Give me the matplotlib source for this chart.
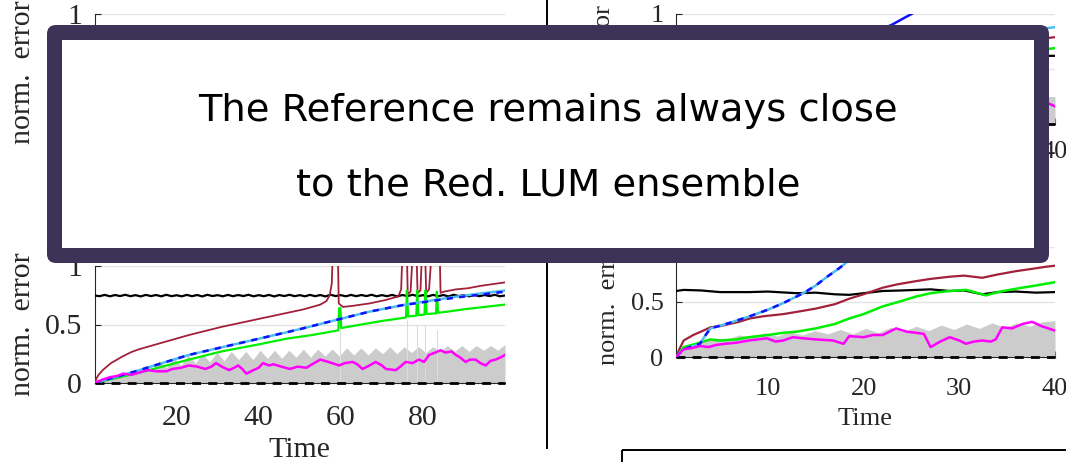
import numpy as np
import matplotlib
matplotlib.use("Agg")
import matplotlib.pyplot as plt
from matplotlib.patches import FancyBboxPatch, Rectangle

W, H, DPI = 1066, 462, 100

# ---------------- data : bottom-left panel (Time 0..100) ----------------
bl_red_t = [0, 0.5, 1, 2, 3, 4, 5.5, 7, 9, 11, 15, 19, 23, 27, 31, 35, 39, 43, 47, 51, 55, 56.5,
            57.3, 57.8, 58.2, 59.2, 59.5, 60.5, 63, 67, 71, 74, 74.7, 75.2, 76.0, 76.3, 77.0,
            77.8, 78.3, 78.7, 79.4, 80.0, 80.4, 80.8, 81.5, 82.5, 83.0, 84.0, 84.3, 85.0, 88, 91,
            94, 97, 100]
bl_red_v = [0, 0.04, 0.07, 0.11, 0.14, 0.17, 0.2, 0.23, 0.265, 0.29, 0.33, 0.37, 0.41, 0.445,
            0.48, 0.51, 0.54, 0.57, 0.6, 0.63, 0.67, 0.7, 0.75, 0.85, 1.3, 1.3, 0.68, 0.65, 0.66,
            0.68, 0.71, 0.74, 0.8, 1.3, 1.3, 0.76, 0.78, 1.3, 1.3, 0.77, 0.79, 1.3, 1.3, 0.77, 0.8,
            1.3, 1.3, 1.3, 0.77, 0.78, 0.8, 0.81, 0.83, 0.845, 0.86]
bl_green_t = [0, 10, 23, 31, 40, 47, 53, 59.4, 59.6, 59.9, 60.1, 65, 70, 75.9, 76.1, 76.4, 78.4,
              78.6, 78.9, 80.4, 80.6, 80.9, 83.2, 83.4, 83.7, 86, 90, 95, 100]
bl_green_v = [0, 0.08, 0.2, 0.27, 0.33, 0.38, 0.41, 0.45, 0.64, 0.64, 0.47, 0.5, 0.53, 0.56, 0.79,
              0.57, 0.575, 0.79, 0.58, 0.585, 0.79, 0.59, 0.595, 0.78, 0.6, 0.61, 0.63, 0.65, 0.67]
bl_blue_t = [0, 10, 23, 39, 50, 59, 67, 75, 82, 88, 94, 100]
bl_blue_v = [0, 0.1, 0.24, 0.37, 0.46, 0.54, 0.61, 0.665, 0.7, 0.73, 0.755, 0.78]
bl_cyan_v = [0, 0.1, 0.24, 0.37, 0.46, 0.54, 0.61, 0.665, 0.705, 0.737, 0.765, 0.79]
bl_black_v = [0.748, 0.742, 0.753, 0.741, 0.752, 0.743, 0.754, 0.742, 0.751, 0.740, 0.753, 0.743,
              0.752, 0.741, 0.754, 0.742, 0.750, 0.741, 0.753, 0.742, 0.752, 0.740, 0.754, 0.743,
              0.751, 0.741, 0.753, 0.742, 0.752, 0.743, 0.754, 0.741, 0.751, 0.742, 0.753, 0.740,
              0.752, 0.743, 0.754, 0.742, 0.751, 0.741, 0.753, 0.742, 0.752, 0.740, 0.754, 0.743,
              0.751, 0.741, 0.753, 0.742, 0.752, 0.743, 0.754, 0.741, 0.751, 0.742, 0.753, 0.740,
              0.752, 0.743, 0.754, 0.742, 0.751, 0.741, 0.753, 0.742, 0.752, 0.740, 0.754, 0.743,
              0.751, 0.741, 0.753, 0.742, 0.752, 0.743, 0.754, 0.741, 0.748]
bl_gray_v = [0, 0.03, 0.02, 0.07, 0.05, 0.11, 0.08, 0.15, 0.11, 0.19, 0.13, 0.22, 0.15, 0.24, 0.17,
             0.25, 0.18, 0.26, 0.19, 0.27, 0.2, 0.27, 0.2, 0.28, 0.21, 0.28, 0.21, 0.28, 0.22, 0.29,
             0.22, 0.29, 0.23, 0.29, 0.23, 0.3, 0.24, 0.3, 0.24, 0.3, 0.25, 0.31, 0.25, 0.31, 0.26,
             0.31, 0.26, 0.31, 0.27, 0.32, 0.27, 0.32, 0.27, 0.32, 0.28, 0.32, 0.28, 0.33]
bl_gray_spike_t = [59.7, 76.1, 78.6, 80.6, 83.4]
bl_gray_spike_v = [0.62, 0.55, 0.5, 0.5, 0.45]
bl_mag_t = [0, 2, 3.8, 5.5, 7, 9, 11, 13, 15, 17.5, 19, 21, 23, 25, 27, 28.5, 29.6, 31, 32.8, 34,
            35, 36, 37, 38.7, 40, 41, 42.5, 43.6, 45.5, 47.6, 49.5, 51.6, 53, 55, 57, 59.6, 61,
            62.9, 64, 65.3, 67, 68.5, 70, 71, 73.4, 74.5, 75.8, 77.5, 79, 80.3, 81.5, 83, 84.3,
            85.5, 87, 88, 89, 90.4, 91.5, 92.8, 94, 95.3, 96.5, 97.7, 99, 100]
bl_mag_v = [0, 0.03, 0.05, 0.06, 0.08, 0.07, 0.09, 0.11, 0.1, 0.1, 0.12, 0.13, 0.15, 0.14, 0.12,
            0.14, 0.17, 0.14, 0.11, 0.13, 0.15, 0.12, 0.08, 0.11, 0.13, 0.17, 0.15, 0.16, 0.14,
            0.12, 0.14, 0.13, 0.16, 0.2, 0.18, 0.15, 0.17, 0.18, 0.16, 0.12, 0.15, 0.18, 0.15,
            0.12, 0.11, 0.14, 0.18, 0.17, 0.2, 0.18, 0.24, 0.26, 0.28, 0.26, 0.27, 0.24, 0.22,
            0.18, 0.2, 0.2, 0.17, 0.15, 0.19, 0.2, 0.22, 0.24]
bl_xticks = [20, 40, 60, 80]

# ---------------- data : bottom-right panel (Time 0..40) ----------------
br_red_t = [0.4, 0.8, 1.2, 2.2, 3, 4, 5, 6, 7, 8.1, 9.5, 11.6, 13, 15, 17, 18.5, 20, 22, 23.5,
            25.5, 27, 29, 30.5, 32.4, 34, 35.9, 37.5, 39, 40]
br_red_v = [0, 0.08, 0.15, 0.2, 0.23, 0.27, 0.28, 0.3, 0.32, 0.35, 0.37, 0.39, 0.41, 0.44, 0.48,
            0.53, 0.57, 0.63, 0.66, 0.69, 0.71, 0.73, 0.74, 0.72, 0.75, 0.78, 0.8, 0.82, 0.83]
br_green_t = [0.4, 1.2, 2.5, 4, 5, 6.7, 8, 10, 11.6, 13, 15, 17, 18.5, 20, 22, 24, 25.5, 27, 29,
              30.7, 32, 32.8, 34, 35.9, 38, 40]
br_green_v = [0, 0.09, 0.12, 0.16, 0.15, 0.16, 0.18, 0.2, 0.22, 0.23, 0.26, 0.3, 0.35, 0.39, 0.46,
              0.51, 0.55, 0.58, 0.6, 0.61, 0.58, 0.56, 0.59, 0.62, 0.65, 0.68]
br_blue_t = [0.4, 1.2, 2.9, 3.5, 4, 6, 8.1, 10, 11.6, 13.7, 15, 16.2, 17.5, 18.5, 19.5, 20.5, 21.5]
br_blue_v = [0, 0.07, 0.12, 0.2, 0.26, 0.31, 0.37, 0.43, 0.49, 0.58, 0.65, 0.73, 0.81, 0.88, 0.95,
             1.02, 1.1]
br_black_t = [0.4, 1.2, 3, 5, 8.1, 10, 13, 15, 17, 18.5, 20, 22, 24, 25.5, 27, 29, 30.5, 32.4, 34,
              35.9, 38, 40]
br_black_v = [0.6, 0.61, 0.605, 0.59, 0.59, 0.595, 0.58, 0.585, 0.57, 0.565, 0.58, 0.6, 0.605,
              0.61, 0.615, 0.6, 0.605, 0.57, 0.59, 0.595, 0.585, 0.59]
br_mag_t = [0.4, 1.2, 2, 2.9, 3.8, 4.6, 5.5, 6.7, 8, 9.9, 10.8, 11.6, 12.6, 13.7, 15, 16.8, 17.9,
            18.5, 20, 21, 22, 23.4, 24.5, 25.5, 26.3, 27, 28, 29, 30, 30.7, 31.5, 32.4, 33.3, 33.8,
            34.5, 35.5, 36.6, 37.6, 38.6, 39.3, 40]
br_mag_v = [0, 0.07, 0.08, 0.1, 0.09, 0.11, 0.12, 0.13, 0.15, 0.17, 0.14, 0.15, 0.18, 0.17, 0.16,
            0.15, 0.12, 0.19, 0.18, 0.2, 0.2, 0.26, 0.23, 0.22, 0.21, 0.09, 0.14, 0.18, 0.15, 0.12,
            0.14, 0.15, 0.14, 0.16, 0.27, 0.26, 0.3, 0.32, 0.28, 0.26, 0.24]
br_gray_v = [0, 0.1, 0.14, 0.17, 0.16, 0.2, 0.18, 0.22, 0.19, 0.23, 0.2, 0.24, 0.21, 0.25, 0.21,
             0.26, 0.22, 0.27, 0.23, 0.28, 0.24, 0.29, 0.25, 0.3, 0.26, 0.31, 0.27, 0.31, 0.28,
             0.32, 0.33]
r_xticks = [10, 20, 30, 40]

# ---------------- data : top-right panel (mostly hidden) ----------------
tr_blue_t = [0.4, 3, 8, 13, 18, 22.9, 25, 27]
tr_blue_v = [0, 0.15, 0.35, 0.52, 0.72, 0.9, 1.0, 1.1]
tr_cyan_t = [0.4, 3, 8, 13, 18, 22.9, 28, 34, 40]
tr_cyan_v = [0, 0.15, 0.33, 0.48, 0.62, 0.7, 0.76, 0.82, 0.88]
tr_red_t = [0.4, 2, 6, 12, 20, 28, 34, 40]
tr_red_v = [0, 0.2, 0.3, 0.4, 0.55, 0.65, 0.72, 0.79]
tr_green_t = [0.4, 2, 6, 12, 20, 28, 34, 40]
tr_green_v = [0, 0.1, 0.15, 0.22, 0.38, 0.55, 0.62, 0.69]
tr_black_t = [0.4, 10, 20, 30, 40]
tr_black_v = [0.6, 0.59, 0.6, 0.61, 0.62]
tr_mag_t = [0.4, 5, 10, 15, 20, 25, 30, 35, 38, 39, 40]
tr_mag_v = [0, 0.1, 0.14, 0.16, 0.15, 0.2, 0.14, 0.2, 0.22, 0.2, 0.16]
tr_gray_t = [0.4, 5, 10, 20, 30, 40]
tr_gray_v = [0, 0.15, 0.2, 0.22, 0.24, 0.25]

# ---------------- data : top-left panel (hidden behind the box) ----------------
tl_t = [0, 25, 50, 75, 100]
tl_black_v = [0.6, 0.6, 0.6, 0.6, 0.6]
tl_red_v = [0, 0.3, 0.45, 0.6, 0.7]
tl_gray_v = [0, 0.2, 0.25, 0.28, 0.3]

box_lines = ["The Reference remains always close", "to the Red. LUM ensemble"]

# ---------------- styling ----------------
plt.rcParams['font.family'] = ['Liberation Serif', 'DejaVu Serif']
C_RED, C_GREEN, C_BLUE, C_CYAN = '#a2213a', '#00ee00', '#1010ff', '#4dbeee'
C_MAG, C_GRAY, C_TXT = '#ff00ff', '#cccccc', '#262626'

fig = plt.figure(figsize=(W / DPI, H / DPI), dpi=DPI)


def px_axes(l, t, r, b):
    return fig.add_axes([l / W, 1 - b / H, (r - l) / W, (b - t) / H])


def style(ax, xlim, xticks, fs, xpad, lpad, ylab_x, show_x=True, show_ylow=True):
    ax.set_xlim(*xlim)
    ax.set_ylim(0, 1)
    ax.set_xticks(xticks)
    ax.set_yticks([0, 0.5, 1])
    ax.set_yticklabels(['0', '0.5', '1'] if show_ylow else ['', '', '1'])
    if not show_x:
        ax.set_xticklabels([''] * (len(xticks) - 1) + [str(xticks[-1])]
                           if show_x is None else [''] * len(xticks))
    for s in ['top', 'right']:
        ax.spines[s].set_visible(False)
    for s in ['left', 'bottom']:
        ax.spines[s].set_color(C_TXT)
        ax.spines[s].set_linewidth(0.8)
    ax.tick_params(direction='in', length=4, width=0.8, colors=C_TXT, labelsize=fs)
    ax.tick_params(axis='x', pad=xpad)
    ax.tick_params(axis='y', pad=9)
    ax.yaxis.grid(True, color='#e4e4e4', lw=1.0)
    ax.set_axisbelow(True)
    if show_x:
        ax.set_xlabel('Time', fontsize=fs, color=C_TXT, labelpad=lpad)
    ax.set_ylabel('norm.  error', fontsize=fs, color=C_TXT)
    ax.yaxis.set_label_coords(ylab_x, 0.5)


def zero_dash(ax, xlim):
    ax.plot(xlim, [0, 0], color='black', lw=2.0, dashes=(3.2, 2.6), zorder=3, clip_on=False)


FS_L, FS_R = 21.5, 19

# bottom-left
ax = px_axes(94.5, 266, 505, 383)
style(ax, (0, 100), bl_xticks, FS_L, 15.5, 4.8, -0.1415)
bl_gray_t = np.linspace(0, 100, len(bl_gray_v))
ax.fill_between(bl_gray_t, 0, bl_gray_v, color=C_GRAY, lw=0, zorder=1)
ax.vlines(bl_gray_spike_t, 0, bl_gray_spike_v, color='#dcdcdc', lw=0.8, zorder=1)
zero_dash(ax, (0, 100))
ax.plot(np.linspace(0, 100, len(bl_black_v)), bl_black_v, color='black', lw=1.6, zorder=4)
ax.plot(bl_red_t, bl_red_v, color=C_RED, lw=1.3, zorder=5)
ax.plot(bl_green_t, bl_green_v, color=C_GREEN, lw=1.6, zorder=6)
ax.plot(bl_blue_t, bl_cyan_v, color=C_CYAN, lw=1.8, zorder=7)
ax.plot(bl_blue_t, bl_blue_v, color=C_BLUE, lw=1.8, dashes=(2.5, 2.5), zorder=8)
ax.plot(bl_mag_t, bl_mag_v, color=C_MAG, lw=1.8, zorder=9)

# top-left (its lower half is covered by the slide box)
ax = px_axes(94.5, 14, 505, 131)
style(ax, (0, 100), bl_xticks, FS_L, 15.5, 4.8, -0.1415, show_x=False, show_ylow=False)
ax.fill_between(tl_t, 0, tl_gray_v, color=C_GRAY, lw=0)
ax.plot(tl_t, tl_black_v, color='black', lw=1.6)
ax.plot(tl_t, tl_red_v, color=C_RED, lw=1.3)

# bottom-right
ax = px_axes(676, 247, 1055, 357)
style(ax, (0.4, 40), r_xticks, FS_R, 14.8, 6.3, -0.148)
br_gray_t = np.linspace(0.4, 40, len(br_gray_v))
ax.fill_between(br_gray_t, 0, br_gray_v, color=C_GRAY, lw=0, zorder=1)
zero_dash(ax, (0.4, 40))
ax.plot(br_black_t, br_black_v, color='black', lw=1.6, zorder=4)
ax.plot(br_red_t, br_red_v, color=C_RED, lw=1.6, zorder=5)
ax.plot(br_green_t, br_green_v, color=C_GREEN, lw=1.8, zorder=6)
ax.plot(br_blue_t, br_blue_v, color=C_CYAN, lw=1.8, zorder=7)
ax.plot(br_blue_t, br_blue_v, color=C_BLUE, lw=1.8, dashes=(2.5, 2.5), zorder=8)
ax.plot(br_mag_t, br_mag_v, color=C_MAG, lw=1.8, zorder=9)

# top-right (mostly covered by the slide box; only "40" of the x labels shows)
ax = px_axes(676, 14, 1055, 124)
style(ax, (0.4, 40), r_xticks, FS_R, 12.5, 6.3, -0.162, show_x=None, show_ylow=False)
ax.fill_between(tr_gray_t, 0, tr_gray_v, color=C_GRAY, lw=0, zorder=1)
zero_dash(ax, (0.4, 40))
ax.plot(tr_black_t, tr_black_v, color='black', lw=1.6, zorder=4)
ax.plot(tr_red_t, tr_red_v, color=C_RED, lw=1.6, zorder=5)
ax.plot(tr_green_t, tr_green_v, color=C_GREEN, lw=1.8, zorder=6)
ax.plot(tr_cyan_t, tr_cyan_v, color=C_CYAN, lw=1.8, zorder=7)
ax.plot(tr_blue_t, tr_blue_v, color=C_BLUE, lw=1.8, zorder=8)
ax.plot(tr_mag_t, tr_mag_v, color=C_MAG, lw=1.8, zorder=9)

# ---------------- overlay (slide elements) ----------------
ov = fig.add_axes([0, 0, 1, 1], zorder=50)
ov.set_xlim(0, W)
ov.set_ylim(H, 0)
ov.axis('off')
ov.plot([547, 547], [0, 448], color='black', lw=1.4, zorder=1)
ov.add_patch(Rectangle((622, 450), 500, 40, fill=False, ec='black', lw=1.4, zorder=1))
ov.add_patch(FancyBboxPatch((47, 25), 1002, 238, boxstyle='round,pad=0,rounding_size=9',
                            fc='#3d3358', ec='none', zorder=5))
ov.add_patch(Rectangle((62, 40), 972, 208, fc='white', ec='none', zorder=6))
BOX_FONT = ['DejaVu Sans']
t1 = ov.text(548, 121, box_lines[0], ha='center', va='baseline', fontsize=25,
             family=BOX_FONT, color='black', zorder=7)
t2 = ov.text(548, 195, box_lines[1], ha='center', va='baseline', fontsize=25,
             family=BOX_FONT, color='black', zorder=7)
fig.canvas.draw()
bb = t1.get_window_extent(fig.canvas.get_renderer())
scale = 700.0 / bb.width
t1.set_fontsize(25 * scale)
t2.set_fontsize(25 * scale)

fig.savefig('out.png', dpi=DPI)
